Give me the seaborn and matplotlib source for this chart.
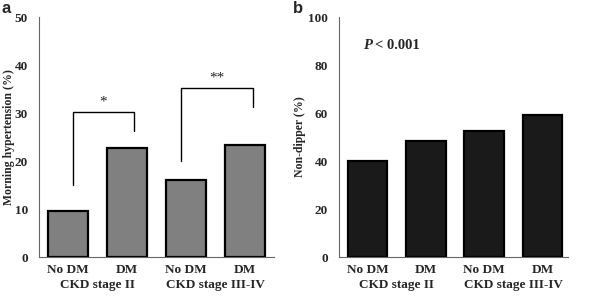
import matplotlib
matplotlib.use("Agg")
import matplotlib.pyplot as plt
import matplotlib.transforms as mtrans
import seaborn as sns
import pandas as pd

# datos
grupos = ["II-NoDM", "II-DM", "IIIIV-NoDM", "IIIIV-DM"]
etiquetas = ["No DM", "DM", "No DM", "DM"]
etapas = ["CKD stage II", "CKD stage III-IV"]
morning_ht = [9.5, 22.7, 16.0, 23.3]
non_dipper = [40.0, 48.5, 52.7, 59.0]

sns.set_style("white")
plt.rcParams["font.family"] = ["Liberation Serif", "DejaVu Serif"]
plt.rcParams["font.weight"] = "bold"

fig = plt.figure(figsize=(5.98, 2.98), dpi=100)
ax_a = fig.add_axes([39 / 598, 41 / 298, 235 / 598, 240 / 298])
ax_b = fig.add_axes([339 / 598, 41 / 298, 229 / 598, 240 / 298])


def dibujar(ax, valores, color, ymax, ylabel, xlim, ylab_x):
    df = pd.DataFrame({"grupo": grupos, "valor": valores})
    sns.barplot(data=df, x="grupo", y="valor", color=color, width=0.68,
                edgecolor="black", linewidth=1.6, saturation=1, ax=ax)
    ax.set_ylim(0, ymax)
    ax.set_xlim(*xlim)
    ax.set_yticks(range(0, ymax + 1, ymax // 5))
    ax.set_xticks(range(4))
    ax.set_xticklabels(etiquetas)
    ax.tick_params(axis="x", length=0, labelsize=9.5, pad=5)
    ax.tick_params(axis="y", length=0, labelsize=9.5, pad=8)
    for lab in ax.get_xticklabels() + ax.get_yticklabels():
        lab.set_fontweight("bold")
    ax.set_xlabel("")
    ax.set_ylabel(ylabel, fontsize=8.5, fontweight="bold")
    ax.yaxis.set_label_coords(ylab_x, 0.5)
    sns.despine(ax=ax)
    for s in ("left", "bottom"):
        ax.spines[s].set_color("#666666")
        ax.spines[s].set_linewidth(0.8)
    trans = mtrans.blended_transform_factory(ax.transData, ax.transAxes)
    for i, etapa in enumerate(etapas):
        ax.text(2 * i + 0.5, -0.09, etapa, transform=trans, ha="center",
                va="top", fontsize=9.5, fontweight="bold")


dibujar(ax_a, morning_ht, "#808080", 50, "Morning hypertension (%)",
        (-0.49, 3.49), -0.102)
dibujar(ax_b, non_dipper, "#1a1a1a", 100, "Non-dipper (%)",
        (-0.49, 3.44), -0.144)

# corchetes de significancia
ax_a.plot([0.08, 0.08, 1.12, 1.12], [15, 30.3, 30.3, 26.3], color="black", lw=1)
ax_a.text(0.6, 31.0, "*", ha="center", va="bottom", fontsize=11, fontweight="normal")
ax_a.plot([1.92, 1.92, 3.14, 3.14], [19.9, 35.3, 35.3, 31.2], color="black", lw=1)
ax_a.text(2.53, 36.0, "**", ha="center", va="bottom", fontsize=11, fontweight="normal")

# P < 0.001 con la P en cursiva negrita
ax_b.text(-0.08, 88, "P", fontsize=10.5, ha="left", va="center",
          fontweight="bold", style="italic")
ax_b.annotate("< 0.001", xy=(-0.08, 88), xytext=(9, 0), textcoords="offset points",
              fontsize=10.5, ha="left", va="center", fontweight="bold")

fig.text(1 / 598, 1 - 1 / 298, "a", family="Liberation Sans", fontsize=12,
         fontweight="bold", ha="left", va="top")
fig.text(293 / 598, 1 - 1 / 298, "b", family="Liberation Sans", fontsize=12,
         fontweight="bold", ha="left", va="top")

fig.savefig("out.png", dpi=100)
